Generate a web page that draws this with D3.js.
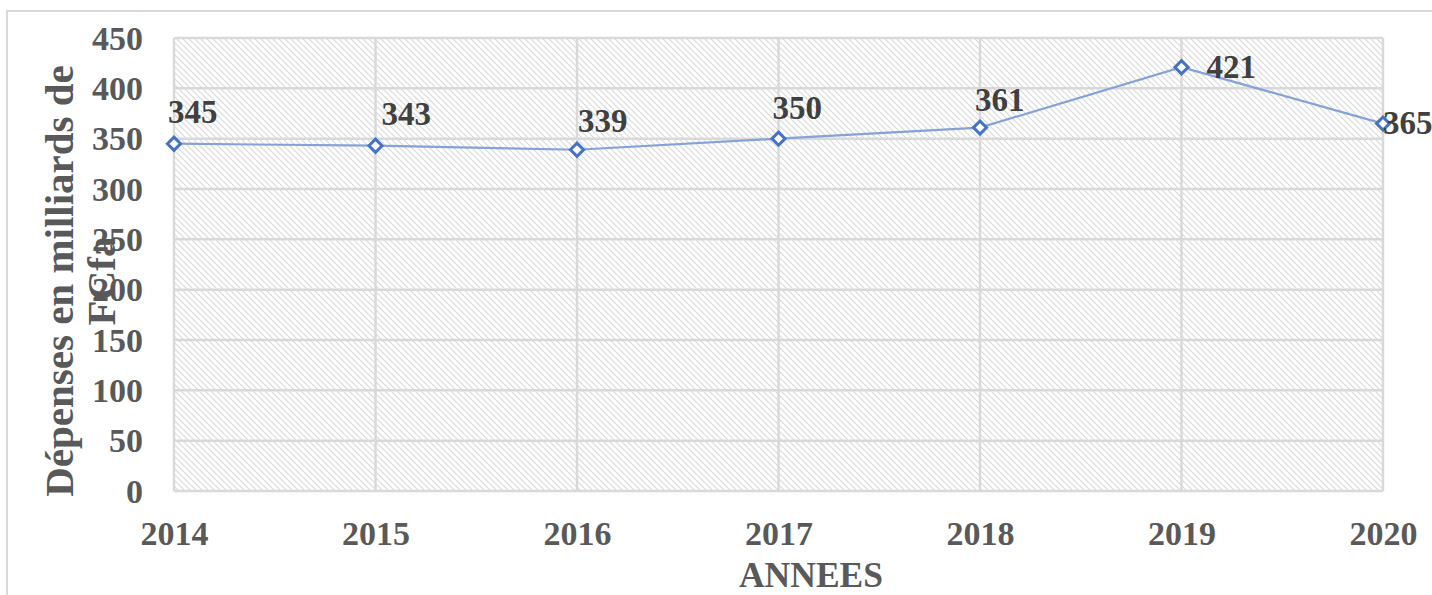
<!DOCTYPE html>
<html><head><meta charset="utf-8">
<script src="https://cdn.jsdelivr.net/npm/d3@7"></script>
<style>body{margin:0;background:#fff}svg{display:block}</style>
</head><body>
<svg id="c" width="1432" height="595"></svg>
<script>
const years = ["2014","2015","2016","2017","2018","2019","2020"];
const depenses = [345, 343, 339, 350, 361, 421, 365];
const yTicks = [0,50,100,150,200,250,300,350,400,450];
const yTitleLines = ["Dépenses en milliards de", "FCfa"];
const xTitle = "ANNEES";

(function(){
const svg = d3.select("#c");
const W = 1432, H = 595;
const pL = 174, pR = 1383, pT = 38, pB = 491;
const txt = "#595959";
const font = "'Liberation Serif','Times New Roman',serif";

// outer frame
svg.append("rect").attr("x",7).attr("y",11).attr("width",W+20).attr("height",H+20)
  .attr("fill","#fff").attr("stroke","#d9d9d9").attr("stroke-width",2);

const defs = svg.append("defs");
const pat = defs.append("pattern").attr("id","hatch").attr("patternUnits","userSpaceOnUse")
  .attr("width",6).attr("height",6);
pat.append("rect").attr("width",6).attr("height",6).attr("fill","#fff");
pat.append("path").attr("d","M-1,-1 L7,7 M-1,5 L1,7 M5,-1 L7,1").attr("stroke","#d9d9d9").attr("stroke-width",1.1);

const x = d3.scalePoint().domain(years).range([pL,pR]);
const y = d3.scaleLinear().domain([0,450]).range([pB,pT]);

svg.append("rect").attr("x",pL).attr("y",pT).attr("width",pR-pL).attr("height",pB-pT)
  .attr("fill","url(#hatch)");

// gridlines
svg.append("g").selectAll("line").data(yTicks).join("line")
  .attr("x1",pL).attr("x2",pR).attr("y1",d=>y(d)).attr("y2",d=>y(d))
  .attr("stroke","#d9d9d9").attr("stroke-width",2.5);
svg.append("g").selectAll("line").data(years).join("line")
  .attr("x1",d=>x(d)).attr("x2",d=>x(d)).attr("y1",pT).attr("y2",pB)
  .attr("stroke","#d9d9d9").attr("stroke-width",2.5);

// y axis labels
const yAxis = d3.axisLeft(y).tickValues(yTicks).tickSize(0).tickPadding(0);
const gy = svg.append("g").attr("transform",`translate(${pL-31},0)`).call(yAxis);
gy.select(".domain").remove();
gy.selectAll("text").attr("font-family",font).attr("font-weight","bold").attr("font-size",34)
  .attr("fill",txt).attr("dy","0.33em");

// x axis labels
const xAxis = d3.axisBottom(x).tickSize(0).tickPadding(0);
const gx = svg.append("g").attr("transform",`translate(0,${pB+54})`).call(xAxis);
gx.select(".domain").remove();
gx.selectAll("text").attr("font-family",font).attr("font-weight","bold").attr("font-size",34)
  .attr("fill",txt).attr("dy",0);

// axis titles
svg.append("text").attr("x",811).attr("y",587).attr("text-anchor","middle")
  .attr("font-family",font).attr("font-weight","bold").attr("font-size",35.5).attr("fill",txt).text(xTitle);
const yt = svg.append("text").attr("transform","translate(73,281) rotate(-90)").attr("text-anchor","middle")
  .attr("font-family",font).attr("font-weight","bold").attr("font-size",41).attr("fill",txt);
yt.append("tspan").attr("x",0).attr("y",0).text(yTitleLines[0]);
yt.append("tspan").attr("x",0).attr("y",42).text(yTitleLines[1]);

// line
const line = d3.line().x((d,i)=>x(years[i])).y(d=>y(d));
svg.append("path").datum(depenses).attr("d",line).attr("fill","none")
  .attr("stroke","#86a2da").attr("stroke-width",2.2);

// markers
const sym = d3.symbol().type(d3.symbolDiamond2).size(110);
svg.append("g").selectAll("path").data(depenses).join("path")
  .attr("d",sym).attr("transform",(d,i)=>`translate(${x(years[i])},${y(d)})`)
  .attr("fill","#fff").attr("stroke","#4472c4").attr("stroke-width",3);

// data labels (manual placement offsets, relative to point)
const labelOffsets = [[-6,-21],[6,-21],[1,-18],[-6,-20],[-5,-17],[25,11],[0,10]];
svg.append("g").selectAll("text").data(depenses).join("text")
  .attr("x",(d,i)=>x(years[i])+labelOffsets[i][0])
  .attr("y",(d,i)=>y(d)+labelOffsets[i][1])
  .attr("font-family",font).attr("font-weight","bold").attr("font-size",33).attr("fill","#404040")
  .text(d=>d);
})();
</script>
</body></html>
